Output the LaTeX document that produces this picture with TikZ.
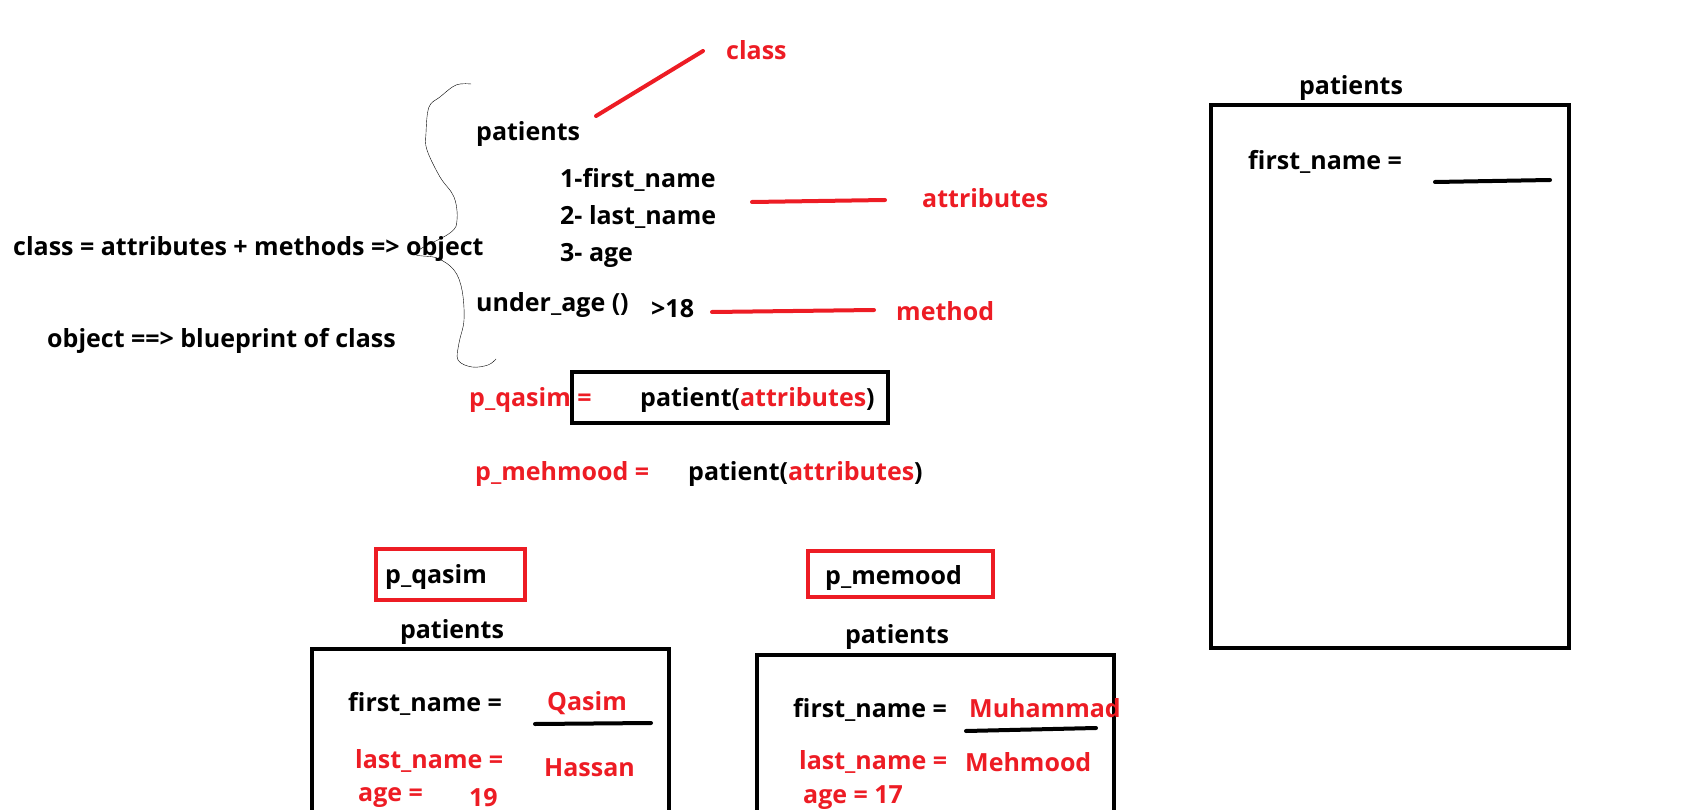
\documentclass[tikz,border=0pt]{standalone}
\usepackage{fontspec}
\setmainfont{Open Sans}
\definecolor{paintred}{RGB}{237,28,36}

\begin{document}
\begin{tikzpicture}[x=1pt, y=-1pt,
    every node/.style={font=\fontsize{25}{30}\selectfont\bfseries, inner sep=0pt},
    txt/.style={anchor=west},
    redtxt/.style={anchor=west, text=paintred},
    pen/.style={line width=4pt, line cap=round},
]
    \useasboundingbox (0,0) rectangle (1702,810);
    \clip (0,0) rectangle (1702,810);

    % the class and its parts
    \node[txt] (cls) at (476,134) {patients};
    \node[txt] (att1) at (560,180) {1-first\_name};
    \node[txt] (att2) at (560,217) {2- last\_name};
    \node[txt] (att3) at (560,255) {3- age};
    \node[txt] (meth) at (476,305) {under\_age ()};
    \node[txt] (cond) at (651,309) {>18};

    \node[redtxt] (lblclass) at (726,50) {class};
    \node[redtxt] (lblatt) at (922,198) {attributes};
    \node[redtxt] (lblmeth) at (896,311) {method};

    \draw[pen, paintred] (596,116) -- (703,51);
    \draw[pen, paintred] (752,202) -- (885,200);
    \draw[pen, paintred] (712,312) -- (874,310);

    % hand drawn brace
    \draw[thin] plot[smooth, tension=.6] coordinates {
        (471,84) (456,85) (440,97) (429,107) (426,133) (427,150) (440,177)
        (454,197) (457,220) (450,233) (415,253) (437,258) (454,270)
        (462,290) (464,320) (459,343) (458,360) (472,367) (488,365) (496,359)};

    \node[txt] (def) at (13,249) {class = attributes + methods => object};
    \node[txt] (obj) at (47,341) {object ==> blueprint of class};

    % making objects
    \node[redtxt] (qas) at (469,400) {p\_qasim =};
    \draw[line width=4pt] (572,372) rectangle (888,423);
    \node[txt] (call1) at (640,400) {patient(\textcolor{paintred}{attributes})};
    \node[redtxt] (meh) at (475,474) {p\_mehmood =};
    \node[txt] (call2) at (688,474) {patient(\textcolor{paintred}{attributes})};

    % object p_qasim
    \draw[line width=4pt, paintred] (376,549) rectangle (525,600);
    \node[txt] (nq) at (385,577) {p\_qasim};
    \node (hq) at (452,632) {patients};
    \draw[line width=4pt] (312,649) rectangle (669,840);
    \node[txt] (fq) at (348,704) {first\_name =};
    \node[redtxt] (vq) at (547,703) {Qasim};
    \draw[pen] (535,724) -- (651,723);
    \node[redtxt] (lq) at (355,761) {last\_name =};
    \node[redtxt] (lvq) at (544,768) {Hassan};
    \node[redtxt] (aq) at (358,798) {age =};
    \node[redtxt] (avq) at (469,798) {19};

    % object p_memood
    \draw[line width=4pt, paintred] (808,551) rectangle (993,597);
    \node[txt] (nm) at (825,578) {p\_memood};
    \node (hm) at (897,637) {patients};
    \draw[line width=4pt] (757,655) rectangle (1114,840);
    \node[txt] (fm) at (793,710) {first\_name =};
    \node[redtxt] (vm) at (969,708) {Muhammad};
    \draw[pen] (966,731) -- (1096,728);
    \node[redtxt] (lm) at (799,762) {last\_name =};
    \node[redtxt] (lvm) at (965,762) {Mehmood};
    \node[redtxt] (am) at (803,798) {age = 17};

    % empty template
    \node (hr) at (1351,88) {patients};
    \draw[line width=4pt] (1211,105) rectangle (1569,648);
    \node[txt] (fr) at (1248,162) {first\_name =};
    \draw[pen] (1435,182) -- (1550,180);
\end{tikzpicture}
\end{document}
